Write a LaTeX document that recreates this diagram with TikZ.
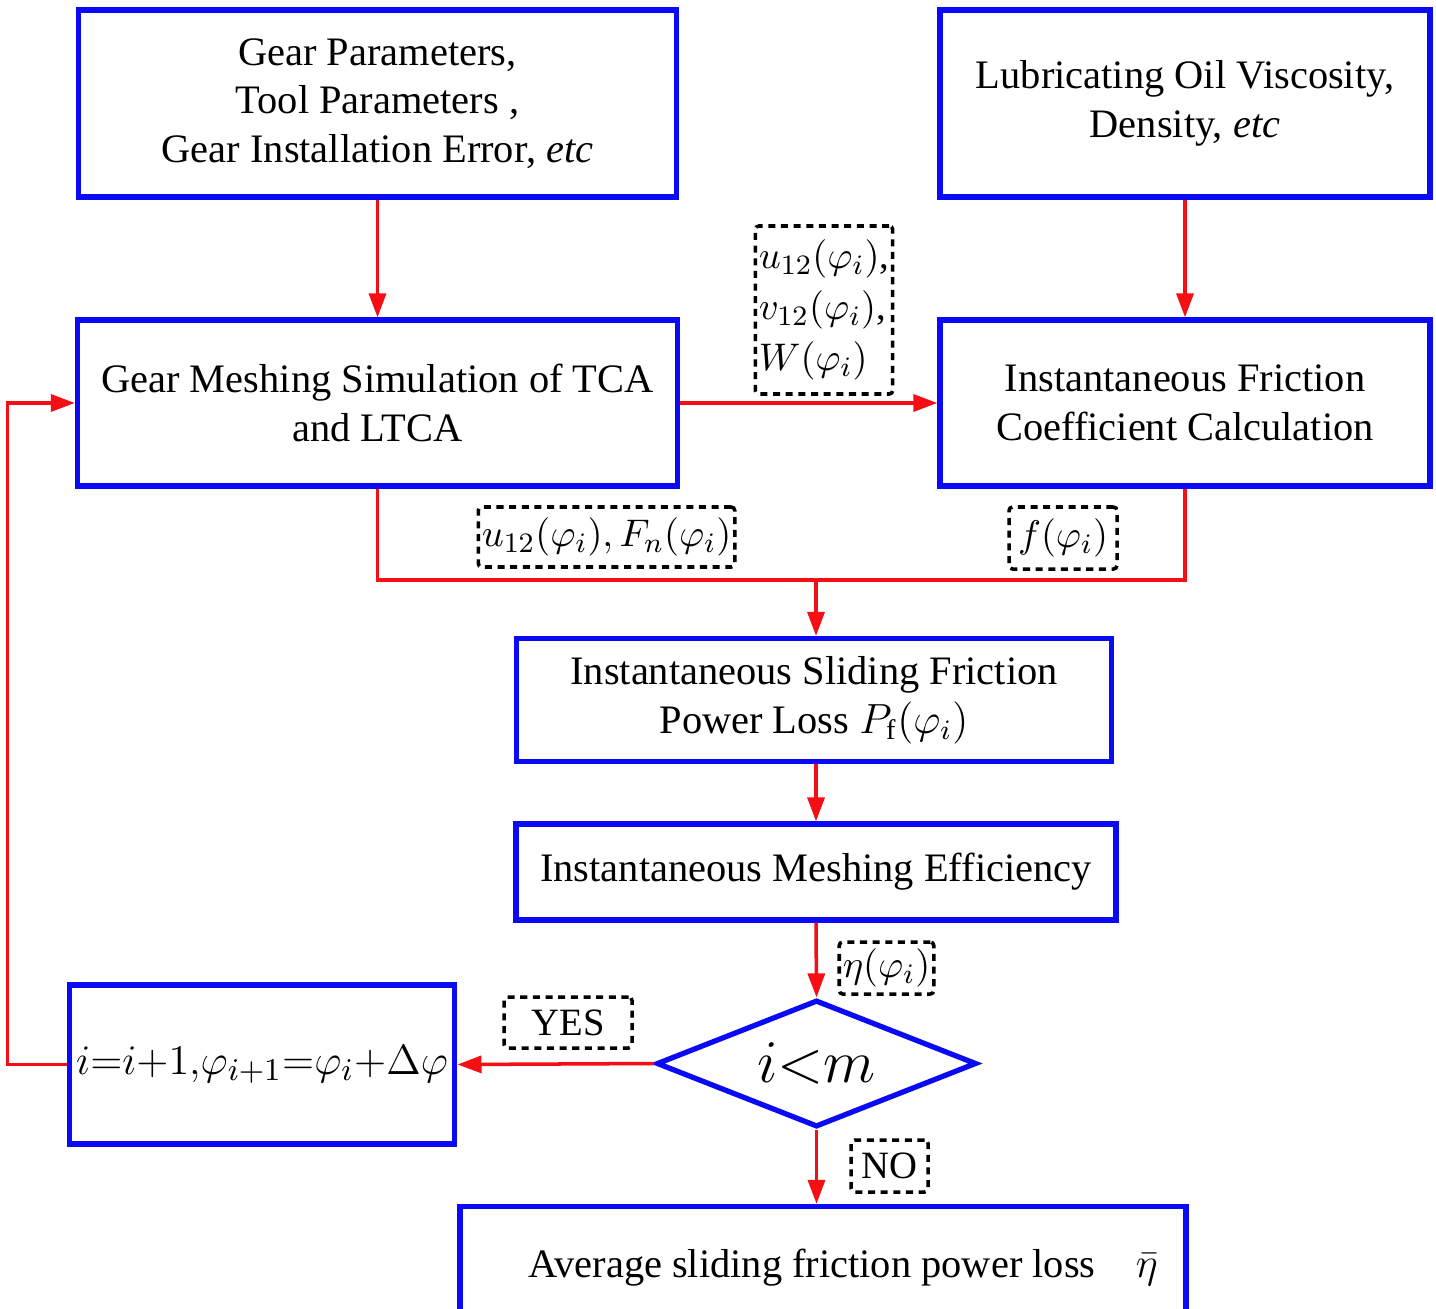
\documentclass[tikz,border=0pt]{standalone}
\usepackage{amsmath, amssymb}
\usepackage{fontspec}
\setmainfont{Liberation Serif}
\usepackage{tikz}
\usetikzlibrary{arrows.meta}
\usetikzlibrary{positioning,shapes.geometric}
\definecolor{boxblue}{RGB}{10,10,245}
\definecolor{flowred}{RGB}{245,15,20}
\tikzset{
    block/.style={
        draw=boxblue,
        line width=1.5pt,
        rectangle,
        align=center,
        inner sep=2pt,
        font=\fontsize{11.5}{13.8}\selectfont
    },
    decision/.style={
        draw=boxblue,
        line width=1.5pt,
        diamond,
        aspect=2.5,
        inner sep=0pt,
        minimum width=3.2cm,
        minimum height=1.27cm,
        font=\fontsize{17}{20}\selectfont
    },
    tag/.style={
        draw=black,
        line width=1pt,
        dash pattern=on 2pt off 1.6pt,
        rounded corners=1pt,
        inner sep=1pt,
        font=\fontsize{11}{14.5}\selectfont
    },
    flow/.style={
        draw=flowred,
        line width=1pt,
        -{Triangle[length=2.4mm, width=1.7mm]}
    },
    joint/.style={
        draw=flowred,
        line width=1pt
    }
}

\begin{document}
\begin{tikzpicture}
    \clip (0,0) rectangle (14.36,-13.08);
    % Boxes
    \node[block, minimum width=5.98cm, minimum height=1.87cm] (param) at (3.775,-1.035)
        {Gear Parameters,\\ Tool Parameters ,\\ Gear Installation Error, \textit{etc}};
    \node[block, minimum width=4.90cm, minimum height=1.87cm] (oil) at (11.85,-1.035)
        {Lubricating Oil Viscosity,\\ Density, \textit{etc}};
    \node[block, minimum width=6.00cm, minimum height=1.66cm] (tca) at (3.775,-4.03)
        {Gear Meshing Simulation of TCA\\ and LTCA};
    \node[block, minimum width=4.90cm, minimum height=1.66cm] (fric) at (11.85,-4.03)
        {Instantaneous Friction\\ Coefficient Calculation};
    \node[block, minimum width=5.95cm, minimum height=1.23cm] (loss) at (8.14,-7.00)
        {Instantaneous Sliding Friction\\ Power Loss $P_{\mathrm{f}}(\varphi_i)$};
    \node[block, minimum width=6.00cm, minimum height=0.96cm] (eff) at (8.16,-8.72)
        {Instantaneous Meshing Efficiency};
    \node[decision] (check) at (8.165,-10.635) {$i{<}m$};
    \node[block, minimum width=3.78cm, minimum height=1.59cm,
          font=\fontsize{12.5}{15}\selectfont] (step) at (2.62,-10.645)
        {$i{=}i{+}1{,}\varphi_{i+1}{=}\varphi_i{+}\Delta\varphi$};
    \node[block, minimum width=7.26cm, minimum height=1.23cm] (avg) at (8.23,-12.68)
        {\hspace*{0.4cm}Average sliding friction power loss\quad$\bar{\eta}$};

    % Labels
    \node[tag, align=left, minimum width=1.20cm, minimum height=1.68cm] (kin) at (8.24,-3.10)
        {$u_{12}(\varphi_i)$,\\ $v_{12}(\varphi_i)$,\\ $W(\varphi_i)$};
    \node[tag, minimum width=2.33cm, minimum height=0.60cm] (load) at (6.065,-5.37)
        {$u_{12}(\varphi_i),F_n(\varphi_i)$};
    \node[tag, minimum width=1.08cm, minimum height=0.62cm] (coef) at (10.63,-5.38)
        {$f(\varphi_i)$};
    \node[tag, minimum width=0.83cm, minimum height=0.52cm] (etai) at (8.865,-9.68)
        {$\eta(\varphi_i)$};
    \node[tag, minimum width=1.28cm, minimum height=0.51cm] (yes) at (5.68,-10.225) {YES};
    \node[tag, minimum width=0.77cm, minimum height=0.52cm] (no) at (8.895,-11.66) {NO};

    % Arrows
    \coordinate (merge) at (8.16,-5.80);
    \draw[flow] (param) -- (tca);
    \draw[flow] (oil) -- (fric);
    \draw[flow] (tca) -- (fric);
    \draw[joint] (tca.south) |- (merge) -| (fric.south);
    \draw[flow] (merge) -- (merge |- loss.north);
    \draw[flow] (loss.south -| merge) -- (merge |- eff.north);
    \draw[flow] (eff.south -| merge) -- (check.north);
    \draw[flow] (check.west) -- (step.east);
    \draw[flow] (check.south) -- (check.south |- avg.north);
    \draw[flow] (step.west) -- ++(-0.59,0) |- (tca.west);
\end{tikzpicture}
\end{document}
